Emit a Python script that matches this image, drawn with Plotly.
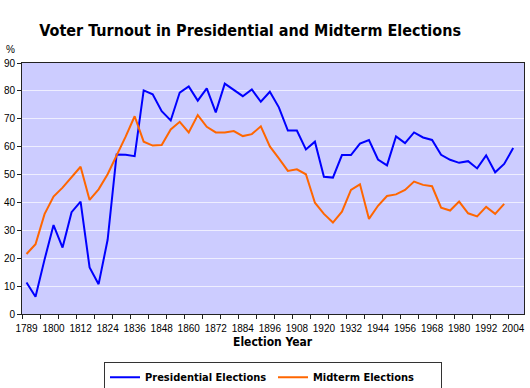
import plotly.graph_objects as go

# Election categories (presidential election years); midterm values share these slots
categories = ["1789"] + [str(y) for y in range(1792, 2005, 4)]

presidential = [11.3, 6.2, 19.5, 31.9, 23.8, 36.5, 40.3, 16.7, 10.7, 26.6,
                57.2, 57.1, 56.6, 80.2, 78.8, 72.7, 69.4, 79.4, 81.6, 76.5,
                80.9, 72.3, 82.6, 80.4, 78.1, 80.5, 76.1, 79.7, 74.1, 65.8,
                65.8, 59.0, 61.8, 49.2, 48.9, 57.0, 57.0, 61.1, 62.4, 55.4,
                53.3, 63.7, 61.3, 65.1, 63.3, 62.4, 57.1, 55.3, 54.2, 54.8,
                52.2, 56.9, 50.8, 53.8, 59.5]

midterm = [21.5, 25.0, 35.8, 42.1, 45.3, 48.9, 52.8, 40.9, 44.7, 50.1,
           56.6, 63.6, 70.9, 61.8, 60.4, 60.6, 66.2, 68.9, 65.1, 71.3,
           67.1, 65.1, 65.1, 65.6, 63.8, 64.5, 67.3, 60.1, 55.8, 51.3,
           51.9, 50.1, 39.9, 35.9, 32.8, 36.7, 44.5, 46.5, 34.1, 38.8,
           42.3, 42.9, 44.5, 47.5, 46.3, 45.8, 38.1, 37.1, 40.3, 36.1,
           35.0, 38.4, 35.9, 39.5]

tick_labels = ["1789", "1800", "1812", "1824", "1836", "1848", "1860", "1872",
               "1884", "1896", "1908", "1920", "1932", "1944", "1956", "1968",
               "1980", "1992", "2004"]

x_idx = list(range(len(categories)))
label_pos = [categories.index(t) for t in tick_labels]

TF = "Tahoma, 'DejaVu Sans Condensed', 'DejaVu Sans', sans-serif"
AF = "Arial, 'Liberation Sans', sans-serif"

fig = go.Figure()
fig.add_trace(go.Scatter(x=x_idx, y=presidential, mode="lines",
                         name="Presidential Elections",
                         line=dict(color="#0000FF", width=2)))
fig.add_trace(go.Scatter(x=x_idx[:len(midterm)], y=midterm, mode="lines",
                         name="Midterm Elections",
                         line=dict(color="#FF6600", width=2)))

fig.update_layout(
    width=530, height=388,
    margin=dict(l=22, r=6, t=63, b=74, autoexpand=False),
    paper_bgcolor="white",
    plot_bgcolor="#CCCCFF",
    showlegend=True,
    legend=dict(orientation="h", x=0.5, xanchor="center", y=-0.19, yanchor="top",
                bordercolor="#333333", borderwidth=1, bgcolor="white",
                font=dict(family=TF, size=11, color="black", weight="bold"),
                entrywidth=123, itemwidth=30),
    title=dict(text="<b>Voter Turnout in Presidential and Midterm Elections</b>",
               x=0.472, xanchor="center", y=0.922, yanchor="middle",
               font=dict(family=TF, size=16, color="black")),
    xaxis=dict(range=[-0.5, 55.2], tickmode="array", tickvals=label_pos,
               ticktext=tick_labels, ticks="", showgrid=False, zeroline=False,
               automargin=False,
               showline=True, linecolor="#222222", linewidth=1, mirror=True,
               tickfont=dict(family=AF, size=10, color="black"),
               ticklabelstandoff=5,
               minor=dict(ticks="outside", tick0=-0.5, dtick=2, ticklen=4,
                          tickcolor="#222222", showgrid=False)),
    yaxis=dict(range=[0, 90], dtick=10, ticks="outside", ticklen=4,
               automargin=False,
               tickcolor="#222222", showline=True, linecolor="#222222",
               linewidth=1, mirror=True, gridcolor="#EEEEFF", gridwidth=1,
               zeroline=False, tickfont=dict(family=AF, size=10, color="black")),
    annotations=[
        dict(text="%", xref="paper", yref="paper", x=-0.022, y=1.023,
             xanchor="center", yanchor="bottom", showarrow=False,
             font=dict(family=AF, size=10, color="black")),
        dict(text="<b>Election Year</b>", xref="paper", yref="paper", x=0.5,
             y=-0.074, xanchor="center", yanchor="top", showarrow=False,
             font=dict(family=TF, size=12, color="black")),
    ],
)

fig.write_html("out.html", config={"displayModeBar": False},
               post_script="document.body.style.margin='0';document.body.style.padding='0';")
